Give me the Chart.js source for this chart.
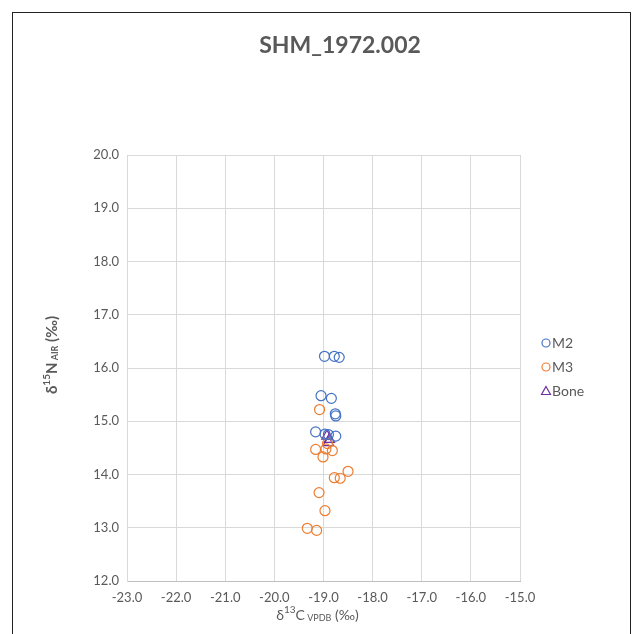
<!DOCTYPE html>
<html>
<head>
<meta charset="utf-8">
<script src="https://cdn.jsdelivr.net/npm/chart.js@4.4.1/dist/chart.umd.min.js"></script>
<style>
  html, body { margin: 0; padding: 0; background: #fff; }
</style>
</head>
<body>
<canvas id="isoChart" width="632" height="634"></canvas>
<script>
// tick positions
const xTicks = [-23, -22, -21, -20, -19, -18, -17, -16, -15];
const yTicks = [12, 13, 14, 15, 16, 17, 18, 19, 20];

// M2 (blue)
const m2X = [-18.98, -18.78, -18.68, -19.05, -18.84, -18.76, -18.75, -19.16, -18.97, -18.90, -18.75];
const m2Y = [16.22, 16.22, 16.20, 15.48, 15.43, 15.14, 15.10, 14.80, 14.76, 14.75, 14.72];

// M3 (orange)
const m3X = [-19.08, -19.16, -18.95, -18.82, -19.01, -18.92, -18.78, -18.66, -18.50, -19.09, -18.97, -19.33, -19.14];
const m3Y = [15.22, 14.47, 14.48, 14.45, 14.33, 14.58, 13.94, 13.93, 14.06, 13.66, 13.32, 12.99, 12.95];

// Bone (purple)
const boneX = [-18.93, -18.88, -18.90];
const boneY = [14.72, 14.66, 14.60];

const toPoints = (xs, ys) => xs.map((x, i) => ({ x: x, y: ys[i] }));

const FONT = "Lato, 'Open Sans', sans-serif";
const GREY = "#595959";

// frame, title, axis titles, legend
const decor = {
  id: "decor",
  beforeDraw(chart) {
    const ctx = chart.ctx;
    ctx.save();
    ctx.fillStyle = "#fff";
    ctx.fillRect(0, 0, chart.width, chart.height);
    ctx.strokeStyle = "#222";
    ctx.lineWidth = 1;
    ctx.strokeRect(12.5, 12.5, 618, 625);
    ctx.restore();
  },
  afterDraw(chart) {
    const ctx = chart.ctx;
    const area = chart.chartArea;
    const cx = (area.left + area.right) / 2;
    ctx.save();
    ctx.fillStyle = GREY;
    ctx.textBaseline = "middle";

    // title
    ctx.font = "bold 23px " + FONT;
    ctx.textAlign = "center";
    ctx.fillText("SHM_1972.002", 340, 46);

    // x axis title: δ13C VPDB (‰)
    drawRich(ctx, [
      { t: "δ", size: 14, dy: 0 },
      { t: "13", size: 10, dy: -5 },
      { t: "C", size: 14, dy: 0 },
      { t: " VPDB", size: 9, dy: 3 },
      { t: " (‰)", size: 14, dy: 0 }
    ], cx - 6, 615, "normal");

    // y axis title: δ15N AIR (‰)
    ctx.translate(52, 355);
    ctx.rotate(-Math.PI / 2);
    drawRich(ctx, [
      { t: "δ", size: 15, dy: 0 },
      { t: "15", size: 10, dy: -5 },
      { t: "N", size: 15, dy: 0 },
      { t: " AIR", size: 9, dy: 3 },
      { t: " (‰)", size: 15, dy: 0 }
    ], 0, 0, "bold");
    ctx.restore();

    // legend
    ctx.save();
    ctx.font = "14px " + FONT;
    ctx.textAlign = "left";
    ctx.textBaseline = "middle";
    const rows = [343, 367, 391];
    chart.data.datasets.forEach((ds, i) => {
      const y = rows[i];
      const x = 546;
      ctx.strokeStyle = ds.borderColor;
      ctx.lineWidth = 1.2;
      ctx.beginPath();
      if (ds.pointStyle === "triangle") {
        ctx.moveTo(x, y - 4.5);
        ctx.lineTo(x + 4.5, y + 3.5);
        ctx.lineTo(x - 4.5, y + 3.5);
        ctx.closePath();
      } else {
        ctx.arc(x, y, 4, 0, Math.PI * 2);
      }
      ctx.stroke();
      ctx.fillStyle = GREY;
      ctx.fillText(ds.label, x + 6, y);
    });
    ctx.restore();
  }
};

function drawRich(ctx, parts, cx, cy, weight) {
  let total = 0;
  parts.forEach(p => {
    ctx.font = weight + " " + p.size + "px " + FONT;
    p.w = ctx.measureText(p.t).width;
    total += p.w;
  });
  let x = cx - total / 2;
  ctx.textAlign = "left";
  parts.forEach(p => {
    ctx.font = weight + " " + p.size + "px " + FONT;
    ctx.fillText(p.t, x, cy + p.dy);
    x += p.w;
  });
}

new Chart(document.getElementById("isoChart"), {
  type: "scatter",
  data: {
    datasets: [
      {
        label: "M2",
        data: toPoints(m2X, m2Y),
        borderColor: "#4472C4",
        backgroundColor: "rgba(0,0,0,0)",
        pointStyle: "circle",
        pointRadius: 5,
        pointBorderWidth: 1.2
      },
      {
        label: "M3",
        data: toPoints(m3X, m3Y),
        borderColor: "#ED7D31",
        backgroundColor: "rgba(0,0,0,0)",
        pointStyle: "circle",
        pointRadius: 5,
        pointBorderWidth: 1.2
      },
      {
        label: "Bone",
        data: toPoints(boneX, boneY),
        borderColor: "#7030A0",
        backgroundColor: "rgba(0,0,0,0)",
        pointStyle: "triangle",
        pointRadius: 6,
        pointBorderWidth: 1.2
      }
    ]
  },
  options: {
    responsive: false,
    animation: false,
    layout: { padding: { top: 155, right: 112, bottom: 13, left: 0 } },
    plugins: {
      legend: { display: false },
      title: { display: false },
      tooltip: { enabled: false }
    },
    scales: {
      x: {
        type: "linear",
        min: xTicks[0],
        max: xTicks[xTicks.length - 1],
        afterBuildTicks: s => { s.ticks = xTicks.map(v => ({ value: v })); },
        afterFit: s => { s.height = 40; },
        grid: { color: "#d9d9d9", drawTicks: false },
        border: { color: "#bfbfbf" },
        ticks: {
          padding: 9,
          color: GREY,
          font: { family: FONT, size: 13 },
          callback: v => v.toFixed(1)
        }
      },
      y: {
        type: "linear",
        min: yTicks[0],
        max: yTicks[yTicks.length - 1],
        afterBuildTicks: s => { s.ticks = yTicks.map(v => ({ value: v })); },
        afterFit: s => { s.width = 127; },
        grid: { color: "#d9d9d9", drawTicks: false },
        border: { color: "#d9d9d9" },
        ticks: {
          padding: 8,
          color: GREY,
          font: { family: FONT, size: 13 },
          callback: v => v.toFixed(1)
        }
      }
    }
  },
  plugins: [decor]
});
</script>
</body>
</html>
